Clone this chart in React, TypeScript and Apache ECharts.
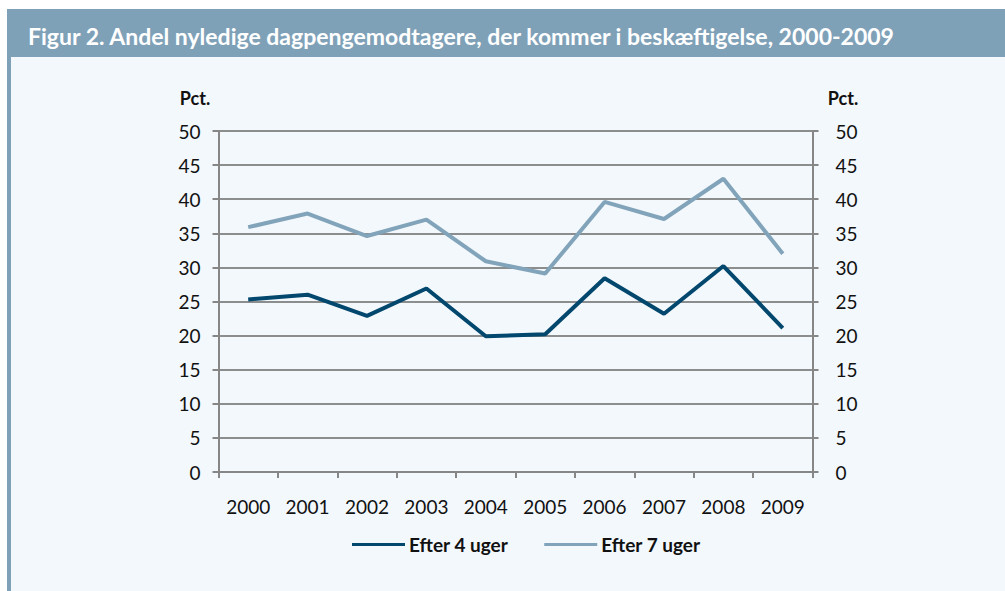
import React, { useEffect, useRef } from "react";
import * as echarts from "echarts";

const years = ["2000", "2001", "2002", "2003", "2004", "2005", "2006", "2007", "2008", "2009"];
const efter4 = [25.3, 26.0, 22.9, 26.9, 19.9, 20.2, 28.4, 23.2, 30.2, 21.1];
const efter7 = [35.9, 37.9, 34.6, 37.0, 30.9, 29.1, 39.6, 37.1, 43.0, 32.0];
const seriesNames = ["Efter 4 uger", "Efter 7 uger"];
const titleText = "Figur 2. Andel nyledige dagpengemodtagere, der kommer i beskæftigelse, 2000-2009";
const unitLabel = "Pct.";

const FONT = "Lato, 'Open Sans', sans-serif";
const GRID_COLOR = "#868686";
const DARK = "#02476d";
const LIGHT = "#82a4ba";
const HEADER = "#7fa1b8";
const BG = "#f3f8fc";

export default function App() {
  const ref = useRef<HTMLDivElement>(null);
  useEffect(() => {
    if (!ref.current) return;
    const chart = echarts.init(ref.current, null, { renderer: "svg" });
    const yAxisBase = {
      type: "value",
      min: 0,
      max: 50,
      interval: 5,
      axisLine: { show: true, lineStyle: { color: GRID_COLOR, width: 2 } },
      axisTick: { show: true, length: 6, lineStyle: { color: GRID_COLOR, width: 2 } },
      splitLine: { show: true, lineStyle: { color: GRID_COLOR, width: 1.6 } },
      axisLabel: { color: "#111", fontSize: 19, fontFamily: FONT },
    };
    chart.setOption({
      animation: false,
      backgroundColor: "#ffffff",
      title: {
        text: titleText,
        left: 23,
        top: 19,
        textStyle: { color: "#ffffff", fontSize: 23, fontWeight: "bold", fontFamily: FONT },
      },
      graphic: [
        { type: "rect", z: -10, shape: { x: 7, y: 9, width: 998, height: 582 }, style: { fill: BG } },
        { type: "rect", z: -5, shape: { x: 7, y: 9, width: 998, height: 48 }, style: { fill: HEADER } },
        { type: "rect", z: -5, shape: { x: 7, y: 9, width: 4, height: 582 }, style: { fill: HEADER } },
        {
          type: "text",
          x: 195,
          y: 98,
          style: { text: unitLabel, fill: "#111", font: `bold 18px ${FONT}`, textAlign: "center", textVerticalAlign: "middle" },
        },
        {
          type: "text",
          x: 843,
          y: 98,
          style: { text: unitLabel, fill: "#111", font: `bold 18px ${FONT}`, textAlign: "center", textVerticalAlign: "middle" },
        },
      ],
      grid: { left: 218.5, right: 192.5, top: 131, bottom: 119, containLabel: false },
      legend: {
        data: seriesNames,
        top: 530,
        left: 347,
        itemWidth: 53,
        itemHeight: 3,
        itemGap: 36,
        icon: "rect",
        textStyle: { color: "#111", fontSize: 19, fontWeight: "bold", fontFamily: FONT, padding: [0, 0, 0, -1] },
      },
      xAxis: {
        type: "category",
        data: years,
        boundaryGap: true,
        axisLine: { show: true, lineStyle: { color: GRID_COLOR, width: 2 } },
        axisTick: { show: true, length: 6, interval: 0, lineStyle: { color: GRID_COLOR, width: 2 } },
        axisLabel: { color: "#111", fontSize: 19, fontFamily: FONT, margin: 25, interval: 0 },
      },
      yAxis: [
        { ...yAxisBase, position: "left", axisLabel: { ...yAxisBase.axisLabel, margin: 18 } },
        { ...yAxisBase, position: "right", axisLabel: { ...yAxisBase.axisLabel, margin: 23 } },
      ],
      series: [
        {
          name: seriesNames[0],
          type: "line",
          data: efter4,
          yAxisIndex: 0,
          symbol: "none",
          lineStyle: { color: DARK, width: 4 },
          itemStyle: { color: DARK },
        },
        {
          name: seriesNames[1],
          type: "line",
          data: efter7,
          yAxisIndex: 0,
          symbol: "none",
          lineStyle: { color: LIGHT, width: 4 },
          itemStyle: { color: LIGHT },
        },
      ],
    });
    return () => chart.dispose();
  }, []);
  return (
    <div
      ref={ref}
      style={{ position: "absolute", left: 0, top: 0, width: 1005, height: 591 }}
    />
  );
}
